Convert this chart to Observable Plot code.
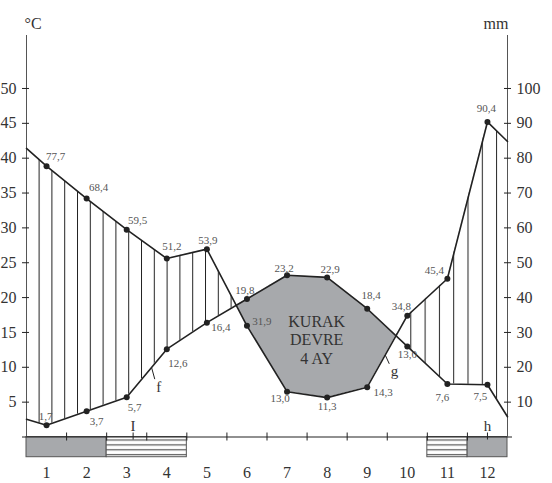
<!DOCTYPE html>
<html><head><meta charset="utf-8">
<script src="https://cdn.jsdelivr.net/npm/d3@7"></script>
<script src="https://cdn.jsdelivr.net/npm/@observablehq/plot@0.6"></script>
<style>
body{margin:0;background:#fff;}
svg{display:block;}
</style>
</head><body>
<script>
// ---- data ----
const months = [1,2,3,4,5,6,7,8,9,10,11,12];
const monthLabels = ["1","2","3","4","5","6","7","8","9","10","11","12"];
const temperature = [1.7,3.7,5.7,12.6,16.4,19.8,23.2,22.9,18.4,13.0,7.6,7.5];      // °C
const precipitation = [77.7,68.4,59.5,51.2,53.9,31.9,13.0,11.3,14.3,34.8,45.4,90.4]; // mm
const edgeTemperature = [2.55, 2.9];    // where the curve meets the left / right axis
const edgePrecipitation = [82.8, 84.8];
const tempTicks = [5,10,15,20,25,30,35,40,45,50];
const precipTicks = [10,20,30,40,50,60,70,80,90,100];
const axisTitles = ["°C","mm"];
const greyBoxes = [[1,2],[12,12]];     // month ranges
const stripedBoxes = [[3,4],[11,11]];
const pointMarkers = [{label:"I", month:3.16},{label:"h", month:12}];
const dryPeriod = {text:"KURAK\nDEVRE\n4 AY", month:7.74, value:14};
const curveTags = [
  {label:"f", from:[3.62,9.98], to:[3.70,8.3], at:[3.80,7.2]},
  {label:"g", from:[9.45,11.76], to:[9.55,10.5], at:[9.68,9.5]}
];

// label offsets (style)
const precipOffsets = [[9,-10],[12,-11],[11,-9],[5,-12],[1,-9],[15,-4],[-7,7],[0,9],[16,5],[-6,-9],[-13,-8],[-1,-13]];
const tempOffsets = [[-1,-9],[10,10],[8,10],[11,14],[14,5],[-2,-9],[-3,-7],[3,-8],[4,-13],[0,8],[-5,13],[-7,12]];

const TOP = 57.6;
const fmt = v => v.toFixed(1).replace(".", ",");
const rows = months.map((m,i) => ({month:m, t:temperature[i], p:precipitation[i]}));
const lineRows = [
  {month:0.5, t:edgeTemperature[0], p:edgePrecipitation[0]},
  ...rows,
  {month:12.5, t:edgeTemperature[1], p:edgePrecipitation[1]}
];
const P = d => d.p / 2;   // 2 mm = 1 °C
const serif = "'Liberation Serif','Times New Roman',serif";
const ink = "#222";

const marks = [
  // clip shapes (moved into <clipPath> after render)
  Plot.areaY(lineRows, {x:"month", y1:"t", y2:TOP, fill:"#000"}),
  Plot.areaY(lineRows, {x:"month", y1:P, y2:TOP, fill:"#000"}),
  // humid hatching
  Plot.areaY(lineRows.filter(d => d.month <= 7), {x:"month", y1:"t", y2:P, fill:"url(#hatchL)"}),
  Plot.areaY(lineRows.filter(d => d.month >= 9), {x:"month", y1:"t", y2:P, fill:"url(#hatchR)"}),
  // arid polygon
  Plot.areaY(lineRows, {x:"month", y1:"t", y2:P, fill:"#a7a9ac"}),
  // bottom boxes
  Plot.rect(greyBoxes, {x1:d=>d[0]-0.5, x2:d=>d[1]+0.5, y1:0, y2:-2.9, fill:"#a7a9ac", stroke:"#555", strokeWidth:1}),
  Plot.rect(stripedBoxes, {x1:d=>d[0]-0.5, x2:d=>d[1]+0.5, y1:0, y2:-2.9, fill:"url(#stripe)", stroke:"#555", strokeWidth:1}),
  // axes lines
  Plot.ruleX([0.5, 12.5], {y1:0, y2:TOP, stroke:"#555", strokeWidth:1}),
  Plot.ruleY([0], {insetLeft:-4, insetRight:-5, stroke:ink, strokeWidth:1.2}),
  Plot.ruleX(months.slice(0,-1).map(m => m + 0.5), {y1:0, y2:0, insetTop:-4, insetBottom:-4, stroke:ink}),
  Plot.ruleX(pointMarkers, {x:"month", y1:0, y2:0, insetTop:-4, insetBottom:-3, stroke:ink}),
  Plot.ruleY(tempTicks, {x1:0.5, x2:0.5, insetLeft:-4, insetRight:-3, stroke:ink}),
  Plot.ruleY(precipTicks.map(v => v/2), {x1:12.5, x2:12.5, insetLeft:-3, insetRight:-4, stroke:ink}),
  Plot.axisY({ticks:tempTicks, anchor:"left", tickSize:0, tickPadding:10, label:null}),
  Plot.axisY({ticks:precipTicks.map(v => v/2), tickFormat:d => String(d*2), anchor:"right", tickSize:0, tickPadding:9, label:null}),
  Plot.axisX({ticks:months, tickFormat:(d,i) => monthLabels[months.indexOf(d)], anchor:"bottom", tickSize:0, tickPadding:30, label:null}),
  Plot.text([axisTitles[0]], {frameAnchor:"top-left", text:d=>d, dx:-2, dy:-18, fontSize:16}),
  Plot.text([axisTitles[1]], {frameAnchor:"top-right", text:d=>d, dx:1, dy:-18, fontSize:16}),
  // curves
  Plot.line(lineRows, {x:"month", y:P, stroke:ink, strokeWidth:1.6}),
  Plot.line(lineRows, {x:"month", y:"t", stroke:ink, strokeWidth:1.6}),
  Plot.dot(rows, {x:"month", y:P, r:3, fill:ink}),
  Plot.dot(rows, {x:"month", y:"t", r:3, fill:ink}),
  // value labels
  ...rows.map((d,i) => Plot.text([d], {x:"month", y:P, text:d=>fmt(d.p), dx:precipOffsets[i][0], dy:precipOffsets[i][1], fontSize:11, fill:"#555"})),
  ...rows.map((d,i) => Plot.text([d], {x:"month", y:"t", text:d=>fmt(d.t), dx:tempOffsets[i][0], dy:tempOffsets[i][1], fontSize:11, fill:"#555"})),
  // annotations
  Plot.text([dryPeriod], {x:"month", y:"value", text:"text", fontSize:16, lineHeight:1.18, fill:"#333"}),
  Plot.text(pointMarkers, {x:"month", y:0, text:"label", dy:-11, fontSize:15, fill:"#333"}),
  Plot.link(curveTags, {x1:d=>d.from[0], y1:d=>d.from[1], x2:d=>d.to[0], y2:d=>d.to[1], stroke:ink, strokeWidth:1}),
  Plot.text(curveTags, {x:d=>d.at[0], y:d=>d.at[1], text:"label", fontSize:15, fill:"#333"})
];

const svg = Plot.plot({
  width:552, height:483,
  marginLeft:26, marginRight:45, marginTop:35, marginBottom:46.5,
  x:{domain:[0.5,12.5]},
  y:{domain:[0,TOP]},
  style:{fontFamily:serif, fontSize:"16px", color:"#333", background:"#fff", overflow:"visible"},
  marks
});

// ---- patterns & clip paths ----
const sel = d3.select(svg);
const defs = sel.insert("defs", ":first-child");
function vHatch(id, x0, w){
  const p = defs.append("pattern").attr("id", id).attr("patternUnits","userSpaceOnUse")
    .attr("x", x0).attr("y", 0).attr("width", w).attr("height", 10);
  p.append("line").attr("x1",0.5).attr("x2",0.5).attr("y1",0).attr("y2",10).attr("stroke",ink).attr("stroke-width",1);
}
vHatch("hatchL", 38.6, 12.8);
vHatch("hatchR", 424.6, 14.3);
const st = defs.append("pattern").attr("id","stripe").attr("patternUnits","userSpaceOnUse")
  .attr("x",0).attr("y",437.5).attr("width",10).attr("height",4.9);
st.append("rect").attr("width",10).attr("height",4.9).attr("fill","#fff");
st.append("line").attr("x1",0).attr("x2",10).attr("y1",2.5).attr("y2",2.5).attr("stroke","#555").attr("stroke-width",1.2);

const areas = svg.querySelectorAll('g[aria-label="area"]');
function toClip(g, id){
  const cp = defs.append("clipPath").attr("id", id);
  cp.node().appendChild(g.querySelector("path"));
  g.remove();
}
toClip(areas[0], "aboveT");
toClip(areas[1], "aboveP");
areas[2].setAttribute("clip-path","url(#aboveT)");
areas[3].setAttribute("clip-path","url(#aboveT)");
areas[4].setAttribute("clip-path","url(#aboveP)");

document.body.appendChild(svg);
</script>
</body></html>
